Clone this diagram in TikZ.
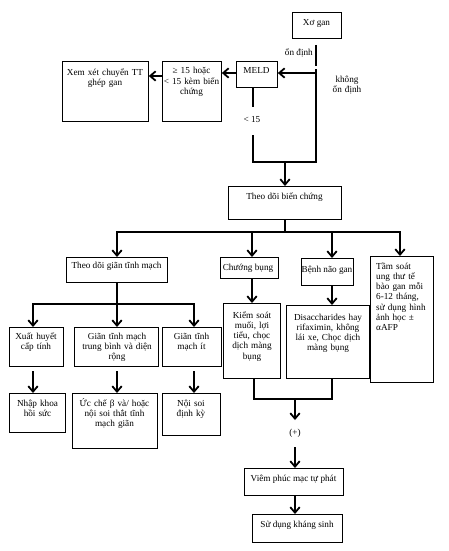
\documentclass[tikz,border=0pt]{standalone}
\usepackage{fontspec}
\setmainfont{Liberation Serif}
\usetikzlibrary{arrows.meta}
\newcommand{\mybox}[5]{\node[box, anchor=north west, minimum width={(#4-#2)*1pt}, minimum height={(#5-#3)*1pt}] (#1) at (#2,#3) {};}
\begin{document}
\begin{tikzpicture}[x=1pt,y=-1pt,
  box/.style={draw=black, line width=0.8pt, inner sep=0pt, fill=white},
  txt/.style={inner sep=0pt, font=\fontsize{9.2}{10.3}\selectfont, align=center},
  conn/.style={line width=1.8pt, line join=miter},
  arr/.style={line width=1.8pt, line join=miter, -{Straight Barb[length=5.5pt,width=9.5pt]}}]
\useasboundingbox[fill=white] (0,0) rectangle (448,551);

% boxes
\mybox{xogan}{292}{12}{341}{38}
\mybox{meld}{236}{61}{277}{87}
\mybox{ge}{162}{61}{221}{121}
\mybox{xem}{62}{61}{148}{121}
\mybox{tdbc}{228}{186}{341}{219}
\mybox{tdg}{66}{257}{167}{282}
\mybox{chuong}{220}{257}{278}{278}
\mybox{benh}{301}{258}{353}{285}
\mybox{tam}{370}{256}{433}{382}
\mybox{xh}{9}{327}{63}{366}
\mybox{gtb}{74}{327}{158}{366}
\mybox{git}{162}{327}{221}{366}
\mybox{nhap}{9}{393}{65}{432}
\mybox{uc}{72}{393}{157}{448}
\mybox{noi}{162}{393}{220}{435}
\mybox{kiem}{223}{303}{280}{378}
\mybox{dis}{286}{305}{369}{378}
\mybox{viem}{244}{468}{343}{495}
\mybox{su}{252}{514}{342}{542}

% texts
\node[txt, anchor=base] (xogant) at (316.5,26) {Xơ gan};
\node[txt, anchor=base] (meldt) at (256.5,73.5) {MELD};
\node[txt, anchor=base, text width=64pt] (get) at (191.5,74) {≥ 15 hoặc\\< 15 kèm biến\\chứng};
\node[txt, anchor=base, text width=90pt] (xemt) at (105,75) {Xem xét chuyển TT\\ghép gan};
\node[txt, anchor=base east] (ondinh) at (313,56) {ổn định};
\node[txt, anchor=base, text width=40pt] (khong) at (347,82) {không\\ổn định};
\node[txt, anchor=base] (lt) at (252,122) {< 15};
\node[txt, anchor=base] (tdbct) at (284.5,199) {Theo dõi biến chứng};
\node[txt, anchor=base] (tdgt) at (116.5,268) {Theo dõi giãn tĩnh mạch};
\node[txt, anchor=base] (chuongt) at (248,270) {Chướng bụng};
\node[txt, anchor=base] (benht) at (327,272) {Bệnh não gan};
\node[txt, anchor=base west, text width=60pt, align=left] (tamt) at (376,269) {Tầm soát\\ung thư tế\\bào gan mỗi\\6-12 tháng,\\sử dụng hình\\ảnh học ±\\αAFP};
\node[txt, anchor=base, text width=56pt] (xht) at (36,339) {Xuất huyết\\cấp tính};
\node[txt, anchor=base, text width=88pt] (gtbt) at (117,339) {Giãn tĩnh mạch\\trung bình và diện\\rộng};
\node[txt, anchor=base, text width=58pt] (gitt) at (191.5,339) {Giãn tĩnh\\mạch ít};
\node[txt, anchor=base, text width=56pt] (nhapt) at (37.5,406) {Nhập khoa\\hồi sức};
\node[txt, anchor=base, text width=88pt] (uct) at (114.5,406) {Ức chế β và/ hoặc\\nội soi thắt tĩnh\\mạch giãn};
\node[txt, anchor=base, text width=58pt] (noit) at (191,406) {Nội soi\\định kỳ};
\node[txt, anchor=base, text width=58pt] (kiemt) at (252,318) {Kiểm soát\\muối, lợi\\tiểu, chọc\\dịch màng\\bụng};
\node[txt, anchor=base, text width=84pt] (dist) at (328,320) {Disaccharides hay\\rifaximin, không\\lái xe, Chọc dịch\\màng bụng};
\node[txt, anchor=base] (plus) at (295,435) {(+)};
\node[txt, anchor=base] (viemt) at (293.5,481) {Viêm phúc mạc tự phát};
\node[txt, anchor=base] (sut) at (297,527) {Sử dụng kháng sinh};

% coordinates
\coordinate (s1) at (316,45);
\coordinate (s2) at (316,66);
\coordinate (s3) at (316,69);
\coordinate (h1) at (316,73);
\coordinate (h2) at (162,76);
\coordinate (m1) at (253,107);
\coordinate (m2) at (253,135);
\coordinate (jb) at (253,162);
\coordinate (jc) at (285,162);
\coordinate (jr) at (316,162);
\coordinate (k0) at (285,232);
\coordinate (kL) at (117,232);
\coordinate (kC) at (252,232);
\coordinate (kB) at (332,232);
\coordinate (kR) at (400,232);
\coordinate (g0) at (117,304);
\coordinate (gL) at (33,304);
\coordinate (gR) at (194,304);
\coordinate (r1) at (33,371);
\coordinate (r2) at (117,371);
\coordinate (r3) at (194,371);
\coordinate (q1) at (254,399);
\coordinate (q2) at (332,399);
\coordinate (q0) at (295,399);
\coordinate (q0e) at (295,420);
\coordinate (p1) at (295,447);

% connectors
\draw[conn] (s1) -- (s2);
\draw[conn] (m2) -- (jb) -- (jr) -- (s3);
\draw[conn] (m1 |- meld.south) -- (m1);
\draw[arr] (h1) -- (h1 -| meld.east);
\draw[arr] (meld.west |- h1) -- (h1 -| ge.east);
\draw[arr] (h2) -- (h2 -| xem.east);
\draw[arr] (jc) -- (jc |- tdbc.north);
\draw[conn] (k0 |- tdbc.south) -- (k0);
\draw[arr] (k0) -- (kL) -- (kL |- tdg.north);
\draw[arr] (k0) -- (kR) -- (kR |- tam.north);
\draw[arr] (kC) -- (kC |- chuong.north);
\draw[arr] (kB) -- (kB |- benh.north);
\draw[conn] (g0 |- tdg.south) -- (g0);
\draw[arr] (g0) -- (gL) -- (gL |- xh.north);
\draw[arr] (g0) -- (gR) -- (gR |- git.north);
\draw[arr] (g0) -- (g0 |- gtb.north);
\draw[arr] (r1) -- (r1 |- nhap.north);
\draw[arr] (r2) -- (r2 |- uc.north);
\draw[arr] (r3) -- (r3 |- noi.north);
\draw[arr] (kC |- chuong.south) -- (kC |- kiem.north);
\draw[arr] (kB |- benh.south) -- (kB |- dis.north);
\draw[conn] (q1 |- kiem.south) -- (q1) -- (q2) -- (q2 |- dis.south);
\draw[arr] (q0) -- (q0e);
\draw[arr] (p1) -- (p1 |- viem.north);
\draw[arr] (p1 |- viem.south) -- (p1 |- su.north);
\end{tikzpicture}
\end{document}
